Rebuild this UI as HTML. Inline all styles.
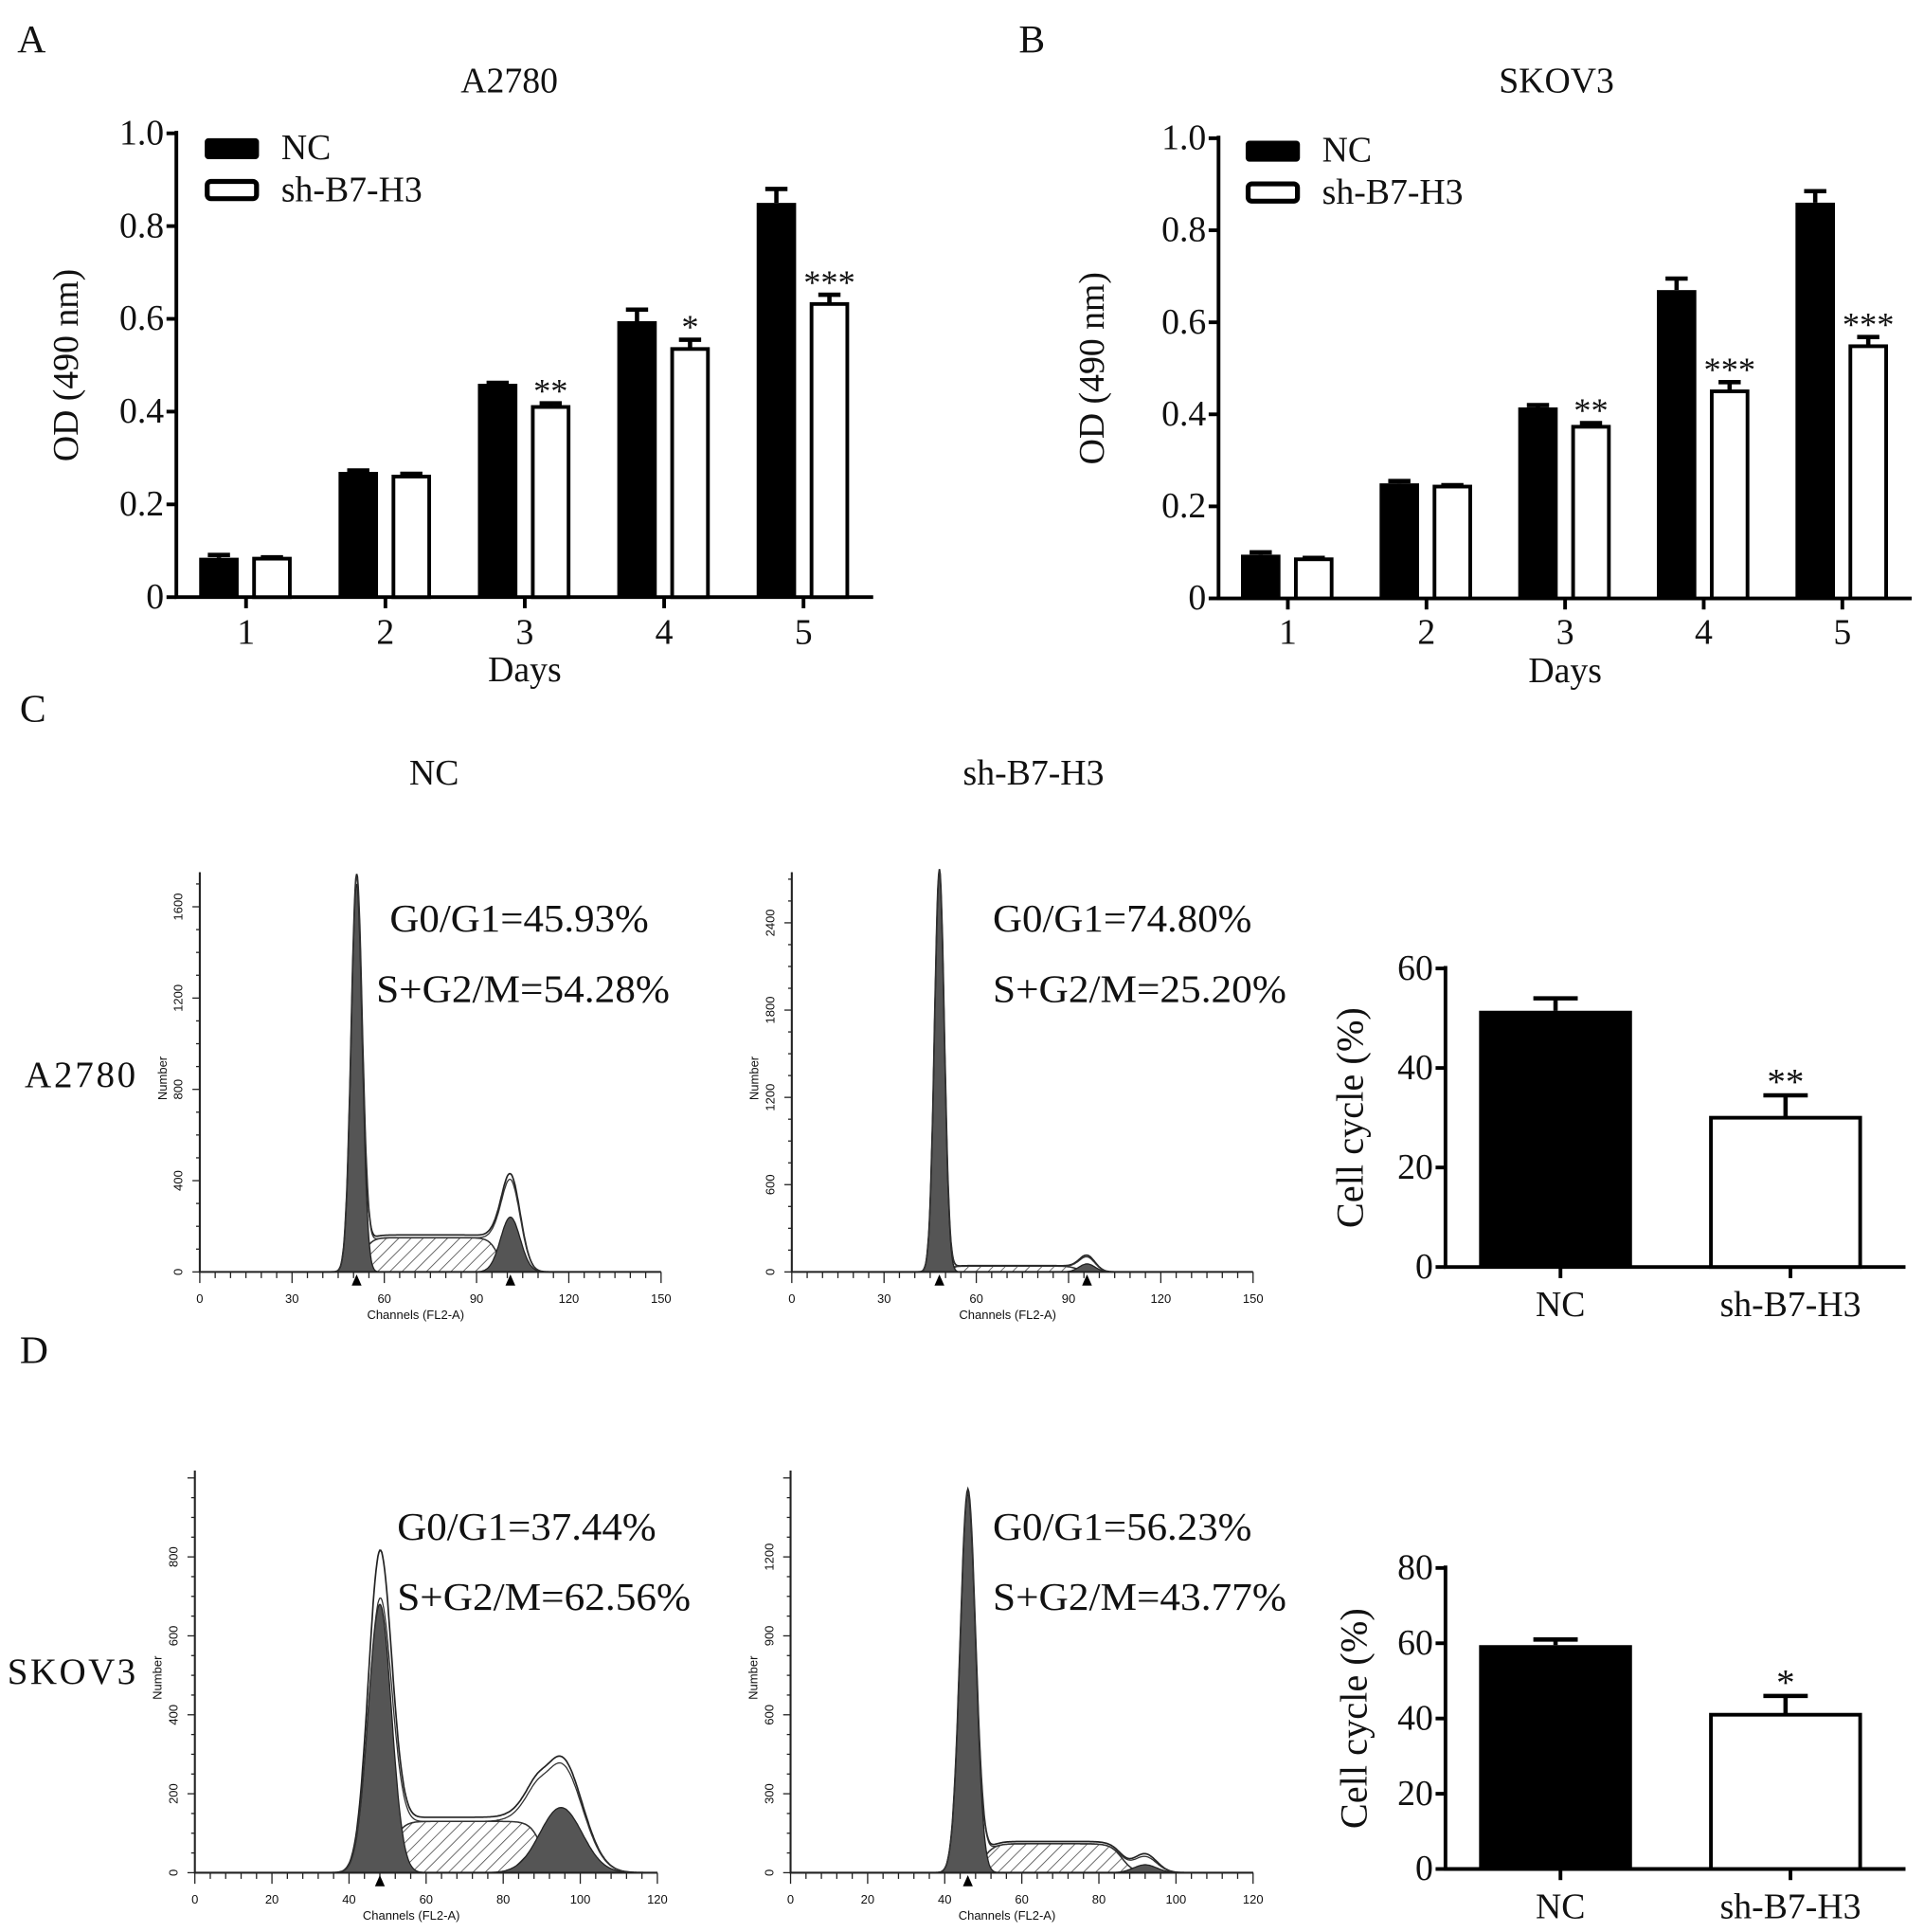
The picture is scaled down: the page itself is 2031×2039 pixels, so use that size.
<!DOCTYPE html>
<html><head><meta charset="utf-8">
<style>
html,body{margin:0;padding:0;background:#fff;}
svg{display:block;}
text{font-family:"Liberation Serif",serif;fill:#111;}
.sans{font-family:"Liberation Sans",sans-serif;}
</style></head>
<body>
<svg id="fig" width="2031" height="2039" viewBox="0 0 1560 1566" xmlns="http://www.w3.org/2000/svg">
<defs>
<pattern id="hatch" patternUnits="userSpaceOnUse" width="7" height="7" patternTransform="rotate(45)">
<rect width="7" height="7" fill="#fff"/><line x1="0" y1="0" x2="0" y2="7" stroke="#444" stroke-width="1.2"/>
</pattern>
</defs>
<text x="14" y="42" font-size="32">A</text>
<text x="826" y="42" font-size="32">B</text>
<text x="16" y="585" font-size="32">C</text>
<text x="16" y="1105" font-size="32">D</text>
<text x="413" y="75" font-size="29" text-anchor="middle">A2780</text>
<text x="1262" y="75" font-size="29" text-anchor="middle">SKOV3</text>
<text x="352" y="636" font-size="29" text-anchor="middle">NC</text>
<text x="838" y="636" font-size="29" text-anchor="middle">sh-B7-H3</text>
<text x="20" y="881" font-size="30" textLength="90">A2780</text>
<text x="6" y="1365" font-size="30" textLength="104">SKOV3</text>
<g id="root"></g>
</svg>
<script>
// ---------- Panel A data ----------
const daysA = ["1","2","3","4","5"];
const ncA = [0.085,0.27,0.46,0.595,0.85];
const ncErrA = [0.006,0.003,0.002,0.025,0.03];
const shA = [0.083,0.26,0.41,0.535,0.632];
const shErrA = [0.003,0.006,0.008,0.02,0.02];
const starsA = ["","","**","*","***"];
// ---------- Panel B data ----------
const daysB = ["1","2","3","4","5"];
const ncB = [0.095,0.25,0.415,0.67,0.86];
const ncErrB = [0.005,0.005,0.005,0.025,0.025];
const shB = [0.085,0.243,0.373,0.45,0.548];
const shErrB = [0.003,0.003,0.008,0.02,0.02];
const starsB = ["","","**","***","***"];
const odTicks = ["0","0.2","0.4","0.6","0.8","1.0"];
// ---------- Cell cycle bar data ----------
const ccGroups = ["NC","sh-B7-H3"];
const ccC = [51.5,30];
const ccErrC = [2.5,4.5];
const ccStarsC = ["","**"];
const ccTicksC = [0,20,40,60];
const ccD = [59.5,41];
const ccErrD = [1.5,5];
const ccStarsD = ["","*"];
const ccTicksD = [0,20,40,60,80];
// ---------- Histogram model parameters (channel, sd, counts) ----------
const histG1 = [[51,1.8,1700],[48,1.6,2750],[48,3,680],[46,2,1440]];
const histG1Total = [1710,2760,800,1450];
const histG2 = [[101,3.2,240],[96,2.6,55],[95,5.5,165],[92,3,30]];
const histG2Total = [420,110,290,70];
const histS = [[53,97,150],[50,93,40],[51,90,130],[50,86,110]];
const histTicksY = [[0,400,800,1200,1600],[0,600,1200,1800,2400],[0,200,400,600,800],[0,300,600,900,1200]];
const histTicksX = [[0,30,60,90,120,150],[0,30,60,90,120,150],[0,20,40,60,80,100,120],[0,20,40,60,80,100,120]];
const histText = [["G0/G1=45.93%","S+G2/M=54.28%"],["G0/G1=74.80%","S+G2/M=25.20%"],["G0/G1=37.44%","S+G2/M=62.56%"],["G0/G1=56.23%","S+G2/M=43.77%"]];

const NS="http://www.w3.org/2000/svg";
const root=document.getElementById('root');
function mk(tag,at,parent){const e=document.createElementNS(NS,tag);for(const k in at)e.setAttribute(k,at[k]);(parent||root).appendChild(e);return e;}

function barChart(o){
  const g=mk('g',{});
  
  
  const ys=v=>o.y0-(v/o.ymax)*(o.y0-o.y1);
  const step=(o.xr-o.xl)/o.cats.length;
  const xs=i=>o.xl+step*(i+0.5);
  const ax=mk('path',{d:`M${o.xl},${o.y1-2}V${o.y0}H${o.xr}`,fill:'none',stroke:'#000','stroke-width':3},g);
  
  
  o.ticks.forEach(t=>{
    const v=parseFloat(t);
    const tl=mk('line',{x1:o.xl-8,x2:o.xl,y1:ys(v),y2:ys(v),stroke:'#000','stroke-width':3},g);
    
    
    const tx=mk('text',{x:o.xl-10,y:ys(v)+9,'font-size':29,'text-anchor':'end'},g);
    
    
    tx.textContent=t;
  });
  o.cats.forEach((c,i)=>{
    const cx=xs(i);
    const tk=mk('line',{x1:cx,x2:cx,y1:o.y0,y2:o.y0+9,stroke:'#000','stroke-width':3},g);
    
    
    const lb=mk('text',{x:cx,y:o.y0+o.labOff,'font-size':o.labSize,'text-anchor':'middle'},g);
    
    
    lb.textContent=c;
    o.series.forEach((s,si)=>{
      const filled = s.fillPerCat ? s.fillPerCat[i] : s.fill;
      const bx=cx+s.off-o.bw/2, top=ys(s.vals[i]);
      const eTop=ys(s.vals[i]+s.errs[i]);
      const el=mk('path',{d:`M${bx+o.bw/2},${top}V${eTop}M${bx+o.bw/2-o.cap},${eTop}H${bx+o.bw/2+o.cap}`,stroke:'#000','stroke-width':3.5,fill:'none'},g);
      
      
      const r=mk('rect',{x:bx+(filled?0:1.5),y:top,width:o.bw-(filled?0:3),height:o.y0-top,fill:filled?'#000':'#fff',stroke:'#000','stroke-width':filled?0:3},g);
      
      
      if(s.stars&&s.stars[i]){
        const st=mk('text',{x:bx+o.bw/2,y:eTop-1,'font-size':o.starSize,'text-anchor':'middle'},g);
        
        
        st.textContent=s.stars[i];
      }
    });
  });
  const yt=mk('text',{x:0,y:0,'font-size':o.ytSize,'text-anchor':'middle',transform:`translate(${o.ytx},${(o.y0+o.y1)/2}) rotate(-90)`},g);
  
  
  yt.textContent=o.ytitle;
  if(o.xtitle){
    const xt=mk('text',{x:(o.xl+o.xr)/2,y:o.y0+68,'font-size':29,'text-anchor':'middle'},g);
    
    
    xt.textContent=o.xtitle;
  }
  if(o.legend){
    const L=o.legend;
    const b1=mk('rect',{x:L.x,y:L.y,width:44,height:17,rx:3,fill:'#000'},g);
    
    
    const t1=mk('text',{x:L.x+62,y:L.y+17,'font-size':29},g);
    
    
    t1.textContent='NC';
    const b2=mk('rect',{x:L.x+2,y:L.y+35,width:40,height:14,rx:3,fill:'#fff',stroke:'#000','stroke-width':4},g);
    
    
    const t2=mk('text',{x:L.x+62,y:L.y+51,'font-size':29},g);
    
    
    t2.textContent='sh-B7-H3';
  }
}
barChart({name:'chart-a-proliferation',cats:daysA,xl:143,xr:708,y0:484,y1:108,ymax:1,ticks:odTicks,bw:32,cap:9,labOff:38,labSize:29,starSize:28,
  series:[{key:'nc',vals:ncA,errs:ncErrA,fill:true,off:-22},{key:'sh',vals:shA,errs:shErrA,fill:false,off:21,stars:starsA}],
  ytitle:'OD (490 nm)',ytx:63,ytSize:29,xtitle:'Days',legend:{x:166,y:112}});
barChart({name:'chart-b-proliferation',cats:daysB,xl:988,xr:1550,y0:485,y1:112,ymax:1,ticks:odTicks,bw:32,cap:9,labOff:37,labSize:29,starSize:28,
  series:[{key:'nc',vals:ncB,errs:ncErrB,fill:true,off:-22},{key:'sh',vals:shB,errs:shErrB,fill:false,off:21,stars:starsB}],
  ytitle:'OD (490 nm)',ytx:895,ytSize:29,xtitle:'Days',legend:{x:1010,y:114}});
barChart({name:'chart-c-cell-cycle',cats:ccGroups,xl:1172,xr:1545,y0:1027,y1:785,ymax:60,ticks:ccTicksC.map(String),bw:124,cap:18,labOff:40,labSize:29,starSize:30,
  series:[{key:'cell-cycle',vals:ccC,errs:ccErrC,fillPerCat:[true,false],off:-4,stars:ccStarsC}],
  ytitle:'Cell cycle (%)',ytx:1105,ytSize:31});
barChart({name:'chart-d-cell-cycle',cats:ccGroups,xl:1172,xr:1545,y0:1515,y1:1271,ymax:80,ticks:ccTicksD.map(String),bw:124,cap:18,labOff:40,labSize:29,starSize:30,
  series:[{key:'cell-cycle',vals:ccD,errs:ccErrD,fillPerCat:[true,false],off:-4,stars:ccStarsD}],
  ytitle:'Cell cycle (%)',ytx:1108,ytSize:31});

// ---------- Histograms ----------
const histBoxes=[
 {name:'histogram-a2780-nc',xl:162,xr:536,y0:1031,ytop:707,xmax:150,tk:1600,tky:735,tx:316,ty1:755,ty2:812,tx2:305},
 {name:'histogram-a2780-sh',xl:642,xr:1016,y0:1031,ytop:707,xmax:150,tk:2400,tky:748,tx:805,ty1:755,ty2:812,tx2:805},
 {name:'histogram-skov3-nc',xl:158,xr:533,y0:1518,ytop:1192,xmax:120,tk:800,tky:1262,tx:322,ty1:1248,ty2:1305,tx2:322},
 {name:'histogram-skov3-sh',xl:641,xr:1016,y0:1518,ytop:1192,xmax:120,tk:1200,tky:1262,tx:805,ty1:1248,ty2:1305,tx2:805}];
function gauss(x,p){return p[2]*Math.exp(-0.5*((x-p[0])/p[1])**2);}
function sig(z){return 1/(1+Math.exp(-z));}
histBoxes.forEach((b,k)=>{
  const g=mk('g',{});
  
  
  const xs=c=>b.xl+c/b.xmax*(b.xr-b.xl);
  const ys=v=>b.y0-v/b.tk*(b.y0-b.tky);
  const S=histS[k];
  const sF=c=>S[2]*sig((c-S[0])/1.5)*sig((S[1]-c)/1.5);
  const pts=f=>{let a=[];for(let c=25;c<=120;c+=0.25)a.push(`${xs(c).toFixed(1)},${ys(f(c)).toFixed(1)}`);return a;};
  const area=f=>`M${xs(25)},${b.y0}L`+pts(f).join('L')+`L${xs(120)},${b.y0}Z`;
  const sA=mk('path',{d:area(sF),fill:'url(#hatch)',stroke:'#333','stroke-width':1.2},g);
  
  
  const g1=mk('path',{d:area(c=>gauss(c,histG1[k])),fill:'#555',stroke:'#222','stroke-width':1},g);
  
  
  const g2=mk('path',{d:area(c=>gauss(c,histG2[k])),fill:'#555',stroke:'#222','stroke-width':1},g);
  
  
  const p1=histG1[k].slice(); p1[2]=histG1Total[k];
  const p2=histG2[k].slice(); p2[2]=histG2Total[k];
  const tot=c=>gauss(c,p1)+gauss(c,p2)+sF(c)*1.08;
  const to=mk('path',{d:'M'+pts(tot).join('L'),fill:'none',stroke:'#222','stroke-width':1.3},g);
  
  
  const p2b=histG2[k].slice(); p2b[2]=(histG2Total[k]+histG2[k][2])/2*1.2;
  const mid=c=>gauss(c,histG1[k])+gauss(c,p2b)+sF(c);
  const md=mk('path',{d:'M'+pts(mid).join('L'),fill:'none',stroke:'#333','stroke-width':1},g);
  
  
  const ax=mk('path',{d:`M${b.xl},${b.ytop}V${b.y0}H${b.xr}`,fill:'none',stroke:'#222','stroke-width':1.6},g);
  
  
  for(let c=0;c<=b.xmax;c+=b.xmax/30){
    const t=mk('line',{x1:xs(c),x2:xs(c),y1:b.y0,y2:b.y0+((Math.round(c)%(b.xmax==150?30:20)==0)?9:5),stroke:'#222','stroke-width':1},g);
    
    
  }
  histTicksX[k].forEach(v=>{
    const t=mk('text',{x:xs(v),y:b.y0+25,'font-size':10,'text-anchor':'middle',class:'sans'},g);
    
    
    t.textContent=v;
  });
  const yStep=(histTicksY[k][1]-histTicksY[k][0])/4;
  for(let v=0;ys(v)>=b.ytop;v+=yStep){
    const t=mk('line',{x1:b.xl-(v%histTicksY[k][1]==0?6:3),x2:b.xl,y1:ys(v),y2:ys(v),stroke:'#222','stroke-width':1},g);
    
    
  }
  histTicksY[k].forEach(v=>{
    const t=mk('text',{x:0,y:0,'font-size':10,'text-anchor':'middle',class:'sans',transform:`translate(${b.xl-14},${ys(v)}) rotate(-90)`},g);
    
    
    t.textContent=v;
  });
  const yl=mk('text',{x:0,y:0,'font-size':10,'text-anchor':'middle',class:'sans',transform:`translate(${b.xl-27},${(b.y0+b.ytop)/2+5}) rotate(-90)`},g);
  
  
  yl.textContent='Number';
  const xl=mk('text',{x:(b.xl+b.xr)/2-12,y:b.y0+38,'font-size':10,'text-anchor':'middle',class:'sans'},g);
  
  
  xl.textContent='Channels (FL2-A)';
  [histG1[k][0],histG2[k][0]].forEach((c,j)=>{
    if(k>=2&&j==1)return;
    const tr=mk('path',{d:`M${xs(c)-4},${b.y0+11}L${xs(c)},${b.y0+2}L${xs(c)+4},${b.y0+11}Z`,fill:'#000'},g);
    
    
  });
  const a=mk('text',{x:b.tx,y:b.ty1,'font-size':32,textLength:210,lengthAdjust:'spacingAndGlyphs'},g);
  
  
  a.textContent=histText[k][0];
  const c2=mk('text',{x:b.tx2,y:b.ty2,'font-size':32,textLength:238,lengthAdjust:'spacingAndGlyphs'},g);
  
  
  c2.textContent=histText[k][1];
});
</script>
</body></html>
